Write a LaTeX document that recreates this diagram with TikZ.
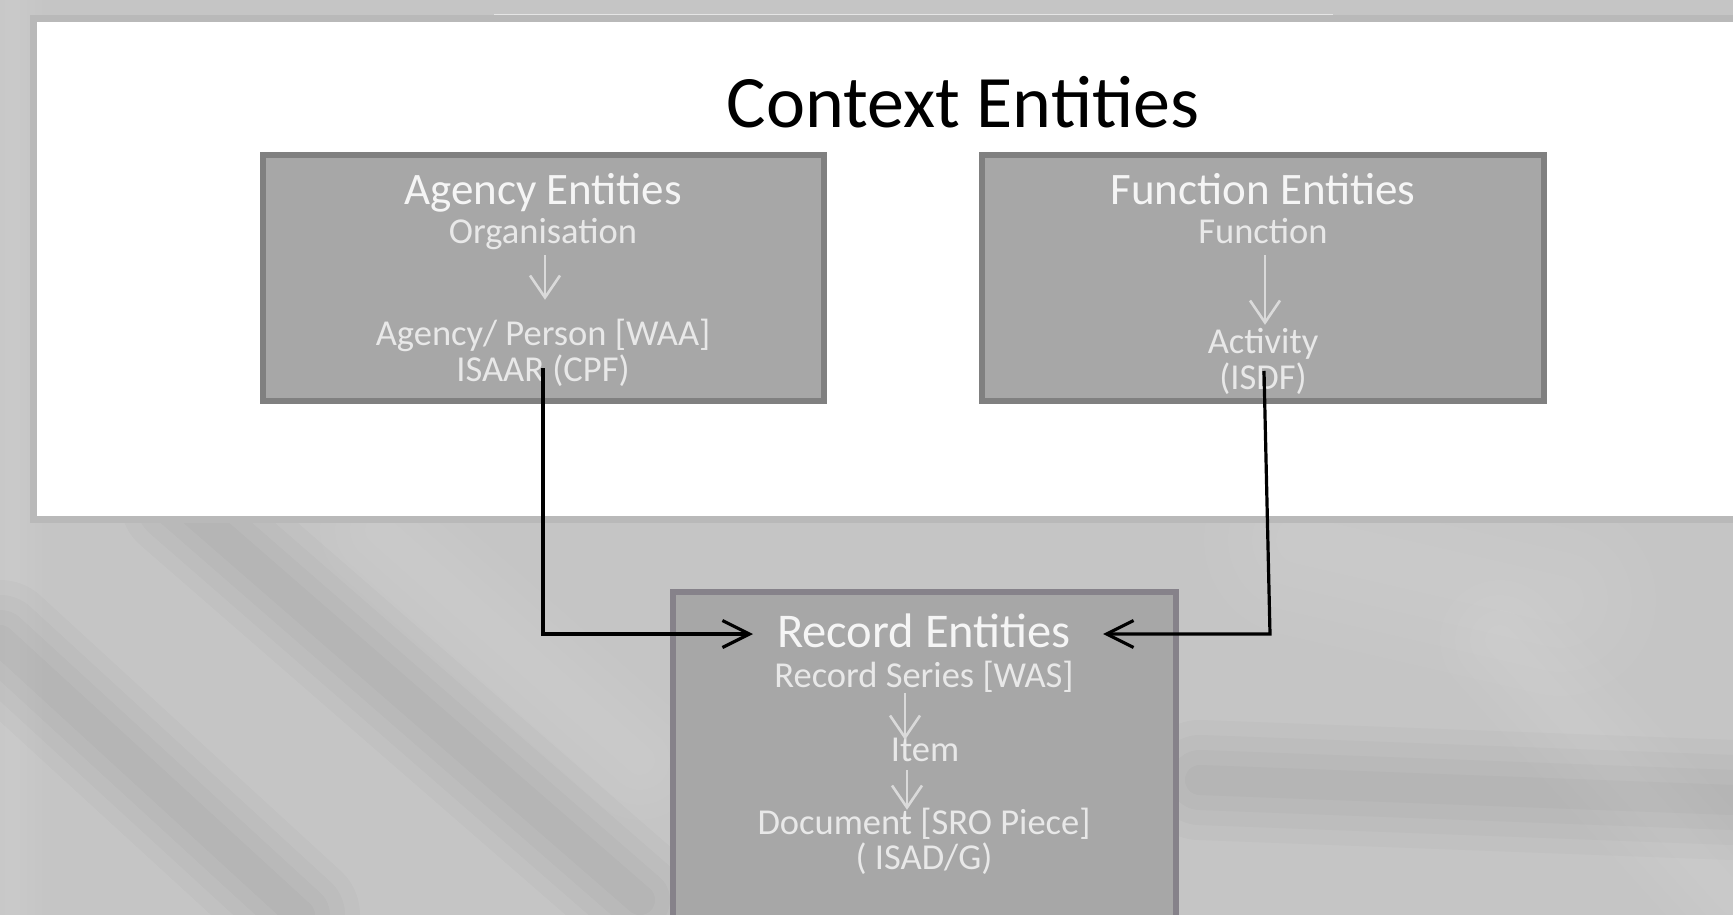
\documentclass[tikz,border=0pt]{standalone}
\usepackage{fontspec}
\setmainfont{Carlito}
\usetikzlibrary{arrows.meta,calc}
\definecolor{bgc}{HTML}{C5C5C5}
\definecolor{paneledge}{HTML}{B9B9B9}
\definecolor{boxfill}{HTML}{A7A7A7}
\definecolor{boxedge}{HTML}{808080}
\definecolor{recedge}{HTML}{86828A}
\definecolor{headtxt}{HTML}{F5F5F5}
\definecolor{subtxt}{HTML}{E8E8E8}
\definecolor{flowc}{HTML}{DADADA}
\begin{document}
\begin{tikzpicture}[x=1pt,y=-1pt,
  entbox/.style={draw=boxedge, fill=boxfill, line width=6pt, inner sep=0pt},
  recbox/.style={entbox, draw=recedge},
  head/.style={text=headtxt, font=\fontsize{45}{54}\selectfont, inner sep=0pt, text height=7.2pt, text depth=2.2pt},
  rhead/.style={head, font=\fontsize{48.5}{58}\selectfont},
  sub/.style={text=subtxt, font=\fontsize{36.5}{44}\selectfont, inner sep=0pt, text height=7.2pt, text depth=2.2pt},
  ttl/.style={text=black, font=\fontsize{74}{88}\selectfont, inner sep=0pt},
  flow/.style={draw=flowc, line width=2.6pt, -{Straight Barb[length=22pt,width=30pt]}},
  link/.style={draw=black, line width=3.2pt, -{Straight Barb[length=27pt,width=27pt]}},
  streak/.style={line cap=round, opacity=0.018}]
\useasboundingbox (0,0) rectangle (1733,915);
% background
\fill[bgc] (0,0) rectangle (1733,915);
\begin{scope}
\clip (0,0) rectangle (1733,915);
\foreach \w in {30,60,90,120}{
  \draw[streak, black, line width=\w pt] (180,500) -- (640,900);
  \draw[streak, black, line width=\w pt] (0,640) -- (300,915);
  \draw[streak, white, line width=\w pt] (380,530) -- (640,760);
  \draw[streak, white, line width=1.6*\w pt] (1300,540) -- (1560,600);
  \draw[streak, black, line width=\w pt] (1200,780) -- (1733,800);
  \draw[streak, white, line width=\w pt] (1500,640) -- (1733,900);
  \draw[streak, white, line width=0.5*\w pt] (12,0) -- (12,915);
}
\end{scope}
\draw[line width=2pt, color=white!90!black] (494,15.5) -- (1333,15.5);
% white panel
\draw[paneledge, fill=white, line width=7pt] (33.5,19) rectangle (1745,519);
% title
\node[ttl] (title) at (963,102) {Context Entities};
% boxes
\node[entbox, minimum width=561pt, minimum height=246pt] (agency) at (543.5,278) {};
\node[entbox, minimum width=562pt, minimum height=246pt] (function) at (1263,278) {};
\node[recbox, minimum width=503pt, minimum height=360pt] (record) at (924.5,772) {};
% agency texts
\node[head] (agH) at (543,202) {Agency Entities};
\node[sub] (agO) at (543,241) {Organisation};
\node[sub] (agP) at (543,343) {Agency/ Person [WAA]};
\node[sub] (agI) at (543,379) {ISAAR (CPF)};
% function texts
\node[head] (fnH) at (1263,202) {Function Entities};
\node[sub] (fnF) at (1263,241) {Function};
\node[sub] (fnA) at (1263,351) {Activity};
\node[sub] (fnI) at (1263,387) {(ISDF)};
% record texts
\node[rhead] (reH) at (924,645) {Record Entities};
\node[sub] (reS) at (924,685) {Record Series [WAS]};
\node[sub] (reI) at (925,759) {Item};
\node[sub] (reD) at (924,832) {Document [SRO Piece]};
\node[sub] (reG) at (924,867) {( ISAD/G)};
% inner flow arrows
\draw[flow] ($(agO.south)+(2,9.3)$) -- ($(agP.north)+(2,-38.3)$);
\draw[flow] ($(fnF.south)+(2,9.3)$) -- ($(fnA.north)+(2,-21.3)$);
\draw[flow] ($(reS.south)+(-19,3.3)$) -- ($(reI.north)+(-20,-14.3)$);
\draw[flow] ($(reI.south)+(-18,6.3)$) -- ($(reD.north)+(-17,-17.3)$);
% links
\draw[link] ($(agI.center)+(0,-11)$) |- ($(reH.center)+(-171,-11)$);
\draw[link] ($(fnI.center)+(1,-16)$) -- ($(reH.center)+(346,-11)$) -- ($(reH.center)+(179,-11)$);
\end{tikzpicture}
\end{document}
